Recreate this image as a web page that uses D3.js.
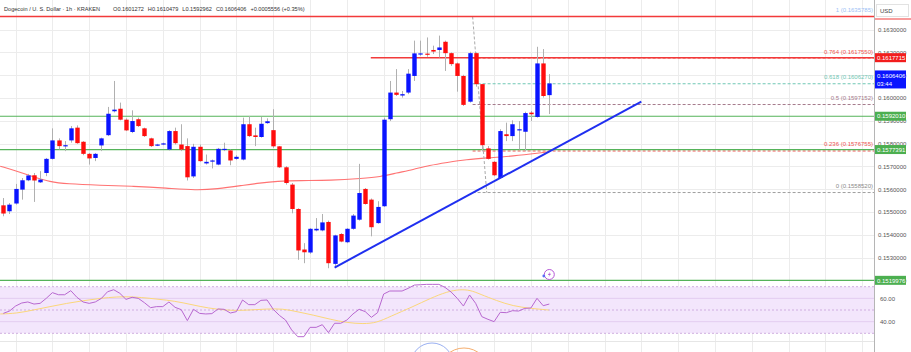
<!DOCTYPE html>
<html>
<head>
<meta charset="utf-8">
<script src="https://cdn.jsdelivr.net/npm/d3@7"></script>
<style>
  body { margin: 0; background: #fff; }
  svg { display: block; font-family: "Liberation Sans", Arial, sans-serif; }
</style>
</head>
<body>
<svg width="911" height="352"></svg>
<script>
// hourly candles
const opens = [.15529,.15503,.15537,.15598,.15639,.15661,.15630,.15671,.15733,.15814,
  .15789,.15814,.15870,.15808,.15755,.15737,.15792,.15837,.15942,.15953,
  .15905,.15851,.15907,.15867,.15823,.15793,.15796,.15774,.15855,.15796,
  .15789,.15656,.15786,.15713,.15723,.15708,.15773,.15770,.15733,.15730,
  .15885,.15836,.15829,.15890,.15859,.15788,.15696,.15620,.15513,.15335,
  .15322,.15419,.15419,.15456,.15272,.15403,.15367,.15426,.15466,.15601,
  .15554,.15451,.15525,.15907,.16024,.16011,.16024,.16097,.16192,.16195,
  .16211,.16211,.16247,.16197,.16152,.16097,.15984,.16197,.16061,.15779,
  .15720,.15649,.15841,.15833,.15858,.15852,.15936,.15917,.16152,.1601272];
const highs = [.15561,.15539,.15623,.15649,.15667,.15671,.15679,.15737,.15867,.15823,
  .15811,.15877,.15880,.15811,.15759,.15759,.15826,.15961,.16075,.15980,
  .15911,.15946,.15914,.15870,.15826,.15799,.15804,.15859,.15870,.15885,
  .15823,.15799,.15796,.15752,.15730,.15781,.15804,.15774,.15749,.15914,
  .15921,.15870,.15917,.15911,.15951,.15789,.15701,.15627,.15516,.15363,
  .15429,.15473,.15491,.15462,.15400,.15407,.15429,.15491,.15711,.15605,
  .15559,.15547,.15914,.16075,.16127,.16031,.16127,.16252,.16252,.16266,
  .16230,.16274,.16252,.16200,.16156,.16102,.16203,.16200,.16061,.15789,
  .15723,.15863,.15892,.15902,.15899,.15940,.15943,.16225,.16215,.1610479];
const lows = [.15481,.15491,.15532,.15554,.15635,.15544,.15627,.15657,.15730,.15774,
  .15767,.15804,.15799,.15749,.15708,.15723,.15767,.15833,.15937,.15902,
  .15855,.15846,.15873,.15829,.15785,.15789,.15793,.15770,.15796,.15767,
  .15638,.15649,.15720,.15708,.15691,.15705,.15767,.15705,.15729,.15726,
  .15829,.15789,.15826,.15887,.15781,.15693,.15620,.15494,.15290,.15275,
  .15316,.15415,.15415,.15253,.15256,.15367,.15363,.15422,.15462,.15532,
  .15393,.15448,.15522,.15899,.16009,.16002,.16017,.16075,.16185,.16181,
  .16193,.16178,.16119,.16141,.16028,.15965,.15980,.16050,.15767,.15730,
  .15657,.15647,.15811,.15811,.15774,.15767,.15899,.15914,.16002,.1592962];
const closes = [.15493,.15532,.15601,.15639,.15660,.15638,.15642,.15733,.15814,.15789,
  .15793,.15867,.15802,.15755,.15735,.15755,.15823,.15931,.15949,.15905,
  .15858,.15899,.15877,.15833,.15789,.15796,.15801,.15855,.15802,.15774,
  .15652,.15786,.15723,.15720,.15726,.15777,.15777,.15726,.15742,.15885,
  .15833,.15829,.15887,.15898,.15788,.15696,.15627,.15513,.15331,.15323,
  .15426,.15426,.15454,.15275,.15397,.15370,.15426,.15484,.15583,.15535,
  .15433,.15522,.15905,.16024,.16014,.16017,.16107,.16196,.16196,.16190,
  .16204,.16222,.16197,.16149,.16097,.15970,.16197,.16061,.15793,.15733,
  .15661,.15855,.15833,.15885,.15863,.15934,.15929,.16152,.16009,.1606406];

// red moving average: [candle index, price]
const maPoints = [[0.5,.15701],[3.2,.15679],[5.9,.15654],[8.6,.15632],[11.3,.15623],
  [16.8,.15617],[22.2,.15613],[27.6,.15605],[32.5,.15595],[35.8,.15601],[39.9,.15616],
  [42.8,.15627],[45.6,.15635],[49.4,.15638],[54.3,.15638],[59.6,.15647],[62.4,.15654],
  [65.1,.15671],[67.8,.15686],[70.5,.15705],[73.3,.15717],[76.5,.15730],[79.8,.15737],
  [84.1,.15745],[88.5,.15759],[89.9,.15764]];

// RSI per candle and its moving average [candle index, value]
const rsiValues = [47.1,49.1,53.4,56.0,56.9,55.1,55.7,60.0,64.9,63.1,
  63.1,66.6,60.9,56.9,55.7,56.9,60.0,65.7,67.4,64.3,
  59.1,60.9,60.0,56.3,52.0,52.9,52.9,56.9,52.3,50.3,
  40.9,50.6,47.1,46.6,46.9,50.9,50.6,47.4,48.6,58.6,
  54.6,54.6,58.3,58.6,50.6,45.4,41.4,32.9,27.1,27.1,
  35.1,35.1,37.4,30.6,38.6,38.6,41.4,46.6,50.6,48.6,
  43.7,47.7,63.7,66.3,66.3,66.3,68.6,71.4,71.7,72.0,
  72.0,72.0,69.4,65.4,60.0,53.4,62.9,55.7,44.3,42.0,
  40.0,48.0,47.7,49.4,49.1,51.4,51.7,60.0,53.7,55.1];
const rsiMaPoints = [[0.5,46.6],[3.2,47.1],[5.9,50],[8.6,52.9],[11.3,55.7],[14,58],
  [16.8,60],[19.5,61.4],[22.2,61.4],[24.9,60],[27.6,58.6],[30.3,56.3],[33.1,52.9],
  [35.8,50.6],[38.5,49.4],[41.2,50],[43.9,50.9],[46.6,51.1],[48.8,48.6],[51.5,45.7],
  [54.3,42],[57,39.1],[59.7,38],[61.9,39.1],[64,44.3],[67.8,52.9],[70.6,60],
  [73.3,65.7],[75.4,67.7],[77.1,67.1],[78.7,63.7],[81.4,58],[84.1,53.4],[86.9,51.4],[89.9,50]];

const priceTicks = d3.range(0.152, 0.16305, 0.001);
const rsiTicks = [40, 60];

const fibRatios = ["1", "0.764", "0.618", "0.5", "0.236", "0"];
const fibPrices = [0.1635785, 0.1617550, 0.1606270, 0.1597152, 0.1576755, 0.1558520];
const fibAnchorIdx = [77.5, 79.8];

const greenLevels = [0.1592010, 0.1577391, 0.1519976];
const redLevels = [0.1635785, 0.1617715];
const redLevelStart = [-2, 60.9];

const trendIdx = [55, 105];
const trendPrice = [0.15256, 0.15984];

const titleParts = ["Dogecoin / U. S. Dollar · 1h · KRAKEN", "O0.1601272", "H0.1610479",
  "L0.1592962", "C0.1606406", "+0.0005556 (+0.35%)"];

// ---------------------------------------------------------------
const svg = d3.select("svg");
const W = 911, H = 352, plotRight = 874;

const x = d3.scaleLinear().domain([1, 90]).range([3.3, 549.3]);
const y = d3.scaleLinear().domain([0.153, 0.163]).range([257.5, 29.7]);
const ry = d3.scaleLinear().domain([30, 70]).range([333.3, 286.7]);
const maxIdx = x.invert(plotRight);

const fibColor = {"1": "#9dbff5", "0.764": "#ef5350", "0.618": "#6fc7b4",
  "0.5": "#a57a8c", "0.236": "#ef5350", "0": "#9e9e9e"};

svg.append("rect").attr("width", W).attr("height", H).attr("fill", "#fff");

// grid
const grid = svg.append("g");
grid.selectAll("line.v")
  .data(d3.range(3, maxIdx, 6))
  .enter().append("line")
  .attr("x1", d => Math.round(x(d)) + 0.5).attr("x2", d => Math.round(x(d)) + 0.5)
  .attr("y1", 0).attr("y2", H)
  .attr("stroke", "#ececec");
grid.selectAll("line.h")
  .data(priceTicks)
  .enter().append("line")
  .attr("x1", 0).attr("x2", plotRight)
  .attr("y1", d => Math.round(y(d)) + 0.5).attr("y2", d => Math.round(y(d)) + 0.5)
  .attr("stroke", "#ececec");

// RSI panel
const rsiG = svg.append("g");
rsiG.append("rect")
  .attr("x", 0).attr("width", plotRight)
  .attr("y", ry(70)).attr("height", ry(30) - ry(70))
  .attr("fill", "#f3e6fc");
rsiG.selectAll("line.g")
  .data(rsiTicks)
  .enter().append("line")
  .attr("x1", 0).attr("x2", plotRight)
  .attr("y1", d => ry(d)).attr("y2", d => ry(d))
  .attr("stroke", "#e3cdf0");
rsiG.selectAll("line.b")
  .data([70, 50, 30])
  .enter().append("line")
  .attr("x1", 0).attr("x2", plotRight)
  .attr("y1", d => ry(d)).attr("y2", d => ry(d))
  .attr("stroke", "#cfaee0").attr("stroke-dasharray", "2,2");
svg.append("line")
  .attr("x1", 0).attr("x2", W).attr("y1", 341.5).attr("y2", 341.5)
  .attr("stroke", "#e6e6e6");

rsiG.append("path")
  .datum(rsiMaPoints)
  .attr("fill", "none").attr("stroke", "#fbd77a").attr("stroke-width", 1)
  .attr("d", d3.line().x(d => x(d[0])).y(d => ry(d[1])).curve(d3.curveBasis));
rsiG.append("path")
  .datum(rsiValues)
  .attr("fill", "none").attr("stroke", "#b868d0").attr("stroke-width", 1)
  .attr("d", d3.line().x((d, i) => x(i + 1)).y(d => ry(d)));

// moving average
svg.append("path")
  .datum(maPoints)
  .attr("fill", "none").attr("stroke", "#ff5a5a").attr("stroke-opacity", 0.85)
  .attr("stroke-width", 1.1)
  .attr("d", d3.line().x(d => x(d[0])).y(d => y(d[1])).curve(d3.curveBasis));

// fib retracement
const fib = svg.append("g");
fib.selectAll("line")
  .data(fibRatios)
  .enter().append("line")
  .attr("x1", x(fibAnchorIdx[0])).attr("x2", plotRight)
  .attr("y1", (d, i) => y(fibPrices[i])).attr("y2", (d, i) => y(fibPrices[i]))
  .attr("stroke", d => fibColor[d]).attr("stroke-dasharray", "3,2");
fib.append("line")
  .attr("x1", x(fibAnchorIdx[0])).attr("y1", y(fibPrices[0]))
  .attr("x2", x(fibAnchorIdx[1])).attr("y2", y(fibPrices[5]))
  .attr("stroke", "#aaa").attr("stroke-dasharray", "3,2");
fib.selectAll("text")
  .data(fibRatios)
  .enter().append("text")
  .attr("x", plotRight - 1).attr("y", (d, i) => y(fibPrices[i]) - 4.5)
  .attr("text-anchor", "end").attr("font-size", 6)
  .attr("fill", d => fibColor[d] === "#9e9e9e" ? "#8a8a8a" : fibColor[d])
  .text((d, i) => `${d} (${fibPrices[i].toFixed(7)})`);

// horizontal levels
svg.selectAll("line.green")
  .data(greenLevels)
  .enter().append("line")
  .attr("x1", 0).attr("x2", plotRight)
  .attr("y1", d => y(d)).attr("y2", d => y(d))
  .attr("stroke", "#55b35a").attr("stroke-width", 1.2);
svg.selectAll("line.red")
  .data(redLevels)
  .enter().append("line")
  .attr("x1", (d, i) => Math.max(0, x(redLevelStart[i]))).attr("x2", plotRight)
  .attr("y1", d => y(d)).attr("y2", d => y(d))
  .attr("stroke", "#f23a3a").attr("stroke-width", 1.6);

// candles
const candles = d3.range(1, 91).map(i => ({
  i, o: opens[i - 1], h: highs[i - 1], l: lows[i - 1], c: closes[i - 1]
}));
const cg = svg.append("g");
cg.selectAll("line")
  .data(candles)
  .enter().append("line")
  .attr("x1", d => Math.round(x(d.i)) + 0.5).attr("x2", d => Math.round(x(d.i)) + 0.5)
  .attr("y1", d => y(d.h)).attr("y2", d => y(d.l))
  .attr("stroke", "#b0b0b0");
cg.selectAll("rect")
  .data(candles)
  .enter().append("rect")
  .attr("x", d => Math.round(x(d.i)) - 1.7)
  .attr("width", 4.4)
  .attr("y", d => y(Math.max(d.o, d.c)))
  .attr("height", d => Math.max(1.2, Math.abs(y(d.o) - y(d.c))))
  .attr("fill", d => d.c >= d.o ? "#0a14ff" : "#ff0d0d");

// trend line
svg.append("line")
  .attr("x1", x(trendIdx[0])).attr("y1", y(trendPrice[0]))
  .attr("x2", x(trendIdx[1])).attr("y2", y(trendPrice[1]))
  .attr("stroke", "#1f2ff0").attr("stroke-width", 2);

// events icon
const ev = svg.append("g").attr("transform", `translate(${x(90)},274.5)`);
ev.append("circle").attr("r", 5).attr("fill", "#fff").attr("stroke", "#b657d6").attr("stroke-width", 1);
ev.append("path").attr("d", "M1,-3 L-1.5,0.5 L0.3,0.5 L-1,3 L1.8,-0.7 L0,-0.7 Z").attr("fill", "#b657d6");
ev.append("circle").attr("cx", -5.5).attr("cy", 1.5).attr("r", 1.4).attr("fill", "#5a6cf5");

// bottom pane arcs
svg.append("circle").attr("cx", 432).attr("cy", 364).attr("r", 21)
  .attr("fill", "none").attr("stroke", "#9ab0f2");
svg.append("circle").attr("cx", 464).attr("cy", 373).attr("r", 25)
  .attr("fill", "none").attr("stroke", "#f6ae6e");

// price axis
svg.append("rect").attr("x", plotRight).attr("width", W - plotRight).attr("height", H).attr("fill", "#fff");
svg.append("line").attr("x1", plotRight + 0.5).attr("x2", plotRight + 0.5)
  .attr("y1", 0).attr("y2", H).attr("stroke", "#b5b5b5");

const axis = svg.append("g")
  .attr("transform", `translate(${plotRight},0)`)
  .call(d3.axisRight(y).tickValues(priceTicks).tickSize(0).tickPadding(4)
    .tickFormat(d3.format(".7f")));
axis.select(".domain").remove();
axis.selectAll("text").attr("font-size", 6).attr("fill", "#555").attr("font-family", null);

const raxis = svg.append("g")
  .attr("transform", `translate(${plotRight},0)`)
  .call(d3.axisRight(ry).tickValues(rsiTicks).tickSize(0).tickPadding(6)
    .tickFormat(d3.format(".2f")));
raxis.select(".domain").remove();
raxis.selectAll("text").attr("font-size", 6).attr("fill", "#555").attr("font-family", null);

// USD header
svg.append("rect").attr("x", 876.5).attr("y", 4.5).attr("width", 32).attr("height", 12)
  .attr("fill", "#fff").attr("stroke", "#e2e2e2");
svg.append("text").attr("x", 880).attr("y", 12.5).attr("font-size", 6).attr("fill", "#444").text("USD");
svg.append("line").attr("x1", plotRight + 1).attr("x2", W).attr("y1", 19).attr("y2", 19)
  .attr("stroke", "#f23a3a").attr("stroke-width", 1.2);

// axis badges
const badges = [
  {p: redLevels[1], fill: "#f21d1d"},
  {p: greenLevels[0], fill: "#4caf50"},
  {p: greenLevels[1], fill: "#4caf50"},
  {p: greenLevels[2], fill: "#4caf50"}
];
const bg = svg.append("g");
badges.forEach(b => {
  bg.append("rect").attr("x", plotRight + 1).attr("y", y(b.p) - 4.5)
    .attr("width", 31).attr("height", 9).attr("fill", b.fill);
  bg.append("text").attr("x", plotRight + 3).attr("y", y(b.p) + 2.2)
    .attr("font-size", 6).attr("fill", "#fff").text(b.p.toFixed(7));
});
const last = closes[closes.length - 1];
bg.append("rect").attr("x", plotRight + 1).attr("y", y(last) - 13)
  .attr("width", 31).attr("height", 18).attr("fill", "#0a14ff");
bg.append("text").attr("x", plotRight + 3).attr("y", y(last) - 5.8)
  .attr("font-size", 6).attr("fill", "#fff").text(last.toFixed(7));
bg.append("text").attr("x", plotRight + 3).attr("y", y(last) + 2.5)
  .attr("font-size", 6).attr("fill", "#fff").text("03:44");

// title
const title = svg.append("text").attr("y", 11).attr("font-size", 5.6).attr("fill", "#333");
let tx = 4;
titleParts.forEach((t, k) => {
  const s = title.append("tspan").attr("x", tx).text(t);
  tx += s.node().getComputedTextLength() + (k === 0 ? 13 : 4);
});
</script>
</body>
</html>
